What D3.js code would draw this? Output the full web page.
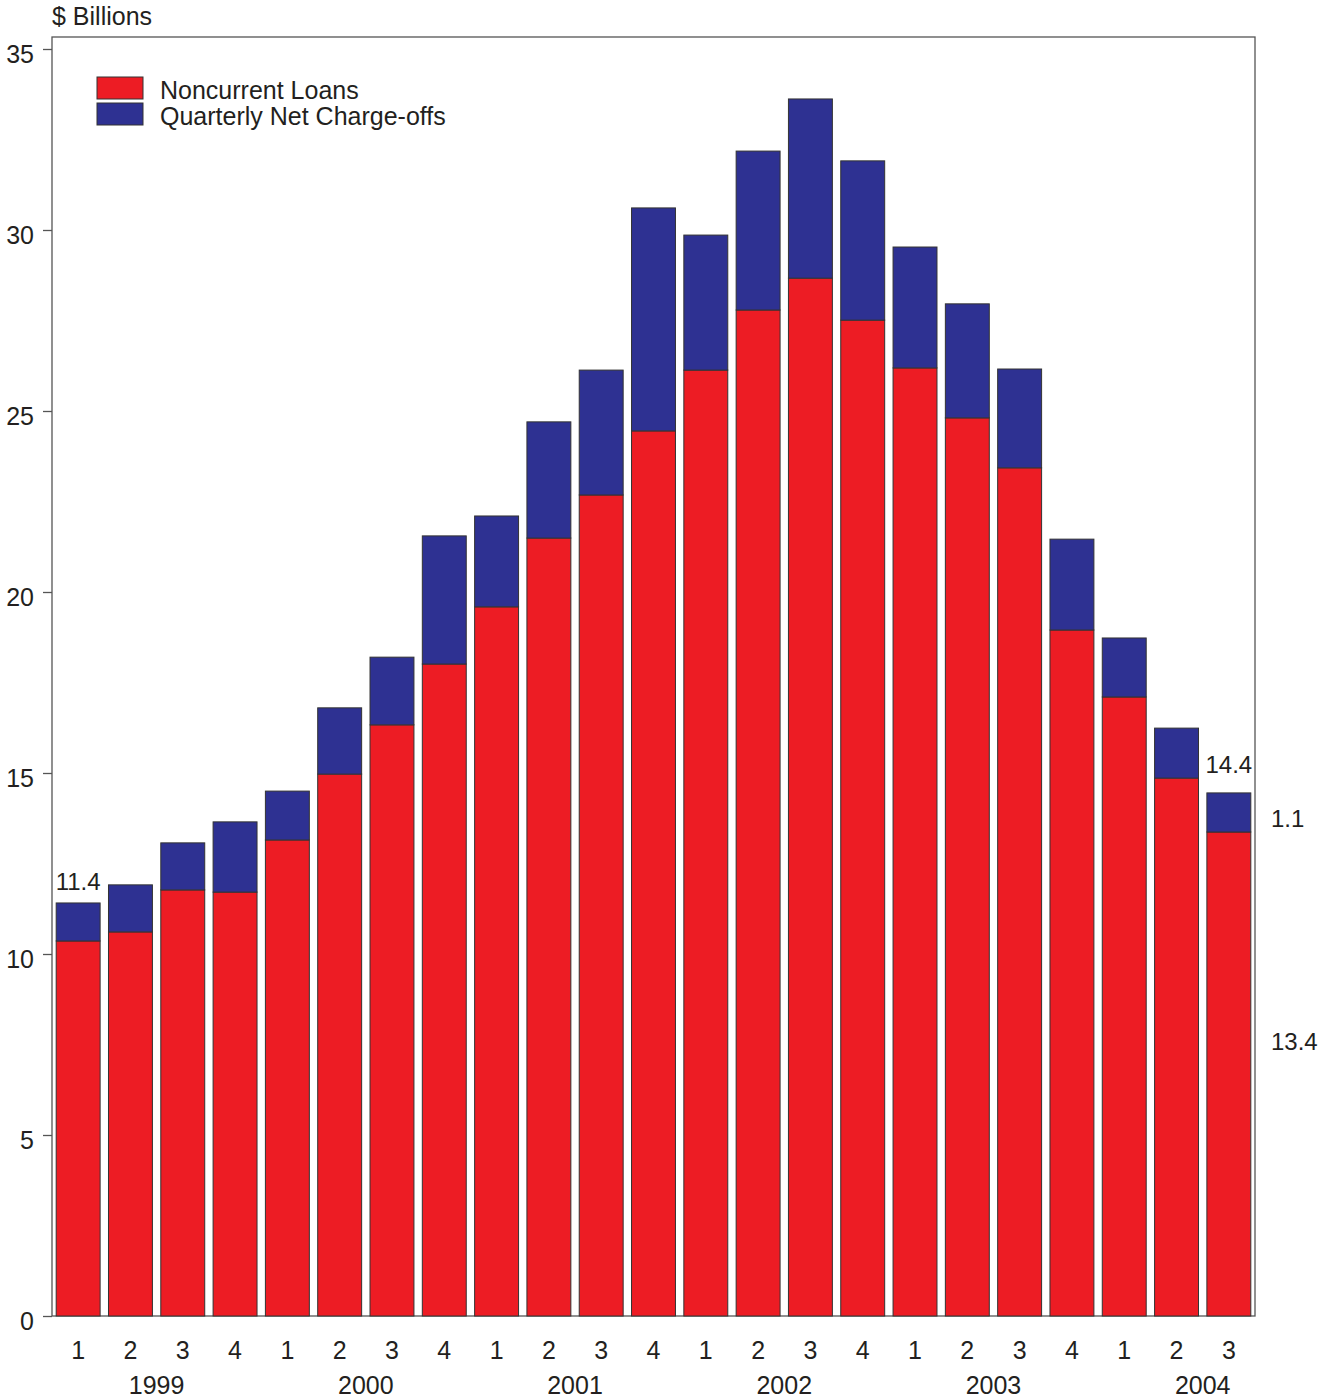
<!DOCTYPE html>
<html><head><meta charset="utf-8">
<script src="https://cdn.jsdelivr.net/npm/d3@7"></script>
<style>body{margin:0;background:#fff}svg text{font-family:"Liberation Sans",Arial,sans-serif;fill:#231F20}</style>
</head><body><svg id="c" width="1329" height="1400"></svg>
<script>
const quarters = ["1","2","3","4","1","2","3","4","1","2","3","4","1","2","3","4","1","2","3","4","1","2","3"];
const years = ["1999","2000","2001","2002","2003","2004"];
const noncurrent = [10.36,10.61,11.77,11.71,13.15,14.97,16.33,18.01,19.59,21.49,22.68,24.45,26.13,27.79,28.67,27.51,26.19,24.81,23.43,18.95,17.10,14.86,13.37];
const chargeoffs = [1.05,1.30,1.30,1.94,1.35,1.83,1.87,3.54,2.51,3.21,3.45,6.16,3.73,4.39,4.95,4.40,3.34,3.15,2.73,2.51,1.63,1.38,1.08];
const yTicks = [0,5,10,15,20,25,30,35];
const seriesNames = ["Noncurrent Loans","Quarterly Net Charge-offs"];
const colors = ["#ED1C24","#2E3192"];

const svg = d3.select("#c");
const L=52,R=1255,T=37,B=1316;
const idx = d3.range(quarters.length);
const x = d3.scaleBand().domain(idx).range([L,R]).paddingInner(0.16).paddingOuter(0.08);
const y = d3.scaleLinear().domain([0,35]).range([B,B-35*36.2]);

const rows = idx.map(i=>({i, a:noncurrent[i], b:chargeoffs[i]}));
const stack = d3.stack().keys(["a","b"])(rows);

// frame
svg.append("rect").attr("x",L).attr("y",T).attr("width",R-L).attr("height",B-T)
  .attr("fill","none").attr("stroke","#555").attr("stroke-width",1.3);

stack.forEach((s,k)=>{
  svg.append("g").selectAll("rect").data(s).join("rect")
    .attr("x",d=>x(d.data.i)).attr("width",x.bandwidth())
    .attr("y",d=>y(d[1])).attr("height",d=>y(d[0])-y(d[1]))
    .attr("fill",colors[k]).attr("stroke","#333").attr("stroke-width",1);
});

// y axis
const ya = svg.append("g").attr("transform",`translate(${L},0)`)
  .call(d3.axisLeft(y).tickValues(yTicks).tickSize(9).tickPadding(9));
ya.select(".domain").remove();
ya.selectAll("line").attr("stroke","#555").attr("stroke-width",1.3);
ya.selectAll("text").attr("font-size",25).attr("dy","0.55em").style("font-family","Liberation Sans, Arial");

// x labels
const xa = svg.append("g").attr("transform",`translate(0,${B})`)
  .call(d3.axisBottom(x).tickFormat(i=>quarters[i]).tickSize(0).tickPadding(25));
xa.select(".domain").remove();
xa.selectAll("text").attr("font-size",25).style("font-family","Liberation Sans, Arial");

const step = x.step();
years.forEach((yr,j)=>{
  const c = x(j*4) + x.bandwidth()/2 + 1.5*step;
  svg.append("text").attr("x",c).attr("y",1394).attr("text-anchor","middle").attr("font-size",25).text(yr);
});

svg.append("text").attr("x",52).attr("y",25).attr("font-size",25).text("$ Billions");

// legend
seriesNames.forEach((n,k)=>{
  svg.append("rect").attr("x",97).attr("y",77+k*26).attr("width",46).attr("height",22)
    .attr("fill",colors[k]).attr("stroke","#333").attr("stroke-width",1);
  svg.append("text").attr("x",160).attr("y",99+k*26).attr("font-size",25).text(n);
});

// annotations
const first = 0, last = quarters.length-1;
const cx = i=>x(i)+x.bandwidth()/2;
svg.append("text").attr("x",cx(first)).attr("y",y(noncurrent[first]+chargeoffs[first])-13)
  .attr("text-anchor","middle").attr("font-size",24).text(d3.format(".1f")(noncurrent[first]+chargeoffs[first]));
svg.append("text").attr("x",cx(last)).attr("y",y(noncurrent[last]+chargeoffs[last])-20)
  .attr("text-anchor","middle").attr("font-size",24).text(d3.format(".1f")(noncurrent[last]+chargeoffs[last]));
svg.append("text").attr("x",1271).attr("y",827)
  .attr("text-anchor","start").attr("font-size",24).text(d3.format(".1f")(chargeoffs[last]));
svg.append("text").attr("x",1271).attr("y",1050)
  .attr("text-anchor","start").attr("font-size",24).text(d3.format(".1f")(noncurrent[last]));
</script></body></html>
